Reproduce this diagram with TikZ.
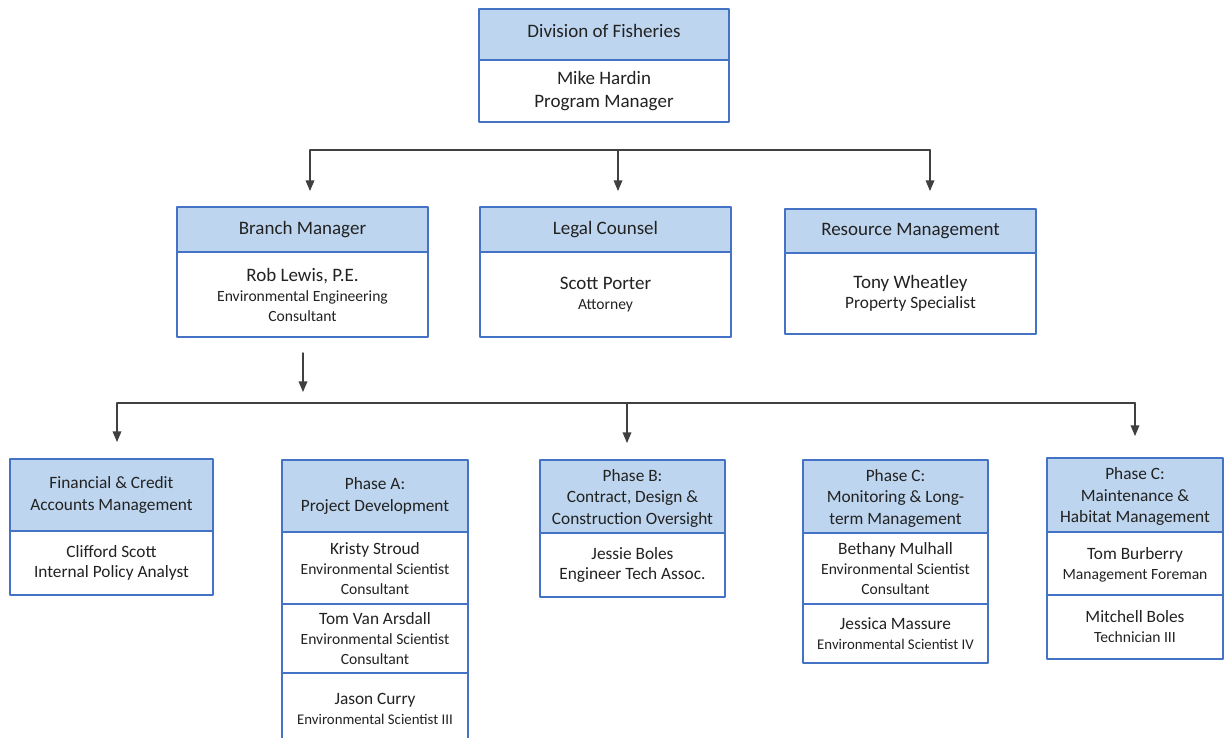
\documentclass[tikz,border=0pt]{standalone}
\usepackage{fontspec}
\setmainfont{Carlito}
\usetikzlibrary{arrows}
\definecolor{boxblue}{RGB}{68,114,196}
\definecolor{headblue}{RGB}{189,213,238}
\definecolor{inkgray}{RGB}{34,34,34}
\newcommand{\nameA}{\fontsize{19}{23}\selectfont}
\newcommand{\nameB}{\fontsize{17.3}{21}\selectfont}
\newcommand{\roleM}{\fontsize{17.3}{21}\selectfont}
\newcommand{\roleA}{\fontsize{15.6}{20}\selectfont}
\newcommand{\roleS}{\fontsize{14.8}{20}\selectfont}
\tikzset{
  cell/.style={draw=boxblue, line width=2pt, fill=white, inner sep=0pt, outer sep=0pt,
    anchor=north west, align=center, text=inkgray, font=\roleA},
  headA/.style={cell, fill=headblue, font=\fontsize{19}{22}\selectfont},
  headB/.style={cell, fill=headblue, font=\fontsize{17.3}{21.5}\selectfont},
  lowtext/.style={text depth=#1},
  wire/.style={line width=1.5pt, color=black!75}
}

\begin{document}
\begin{tikzpicture}[line cap=round,line join=round,>=triangle 45,x=1pt,y=-1pt]
\useasboundingbox (0,0) rectangle (1224,737);
\clip (0,0) rectangle (1224,737);
% top
\node[headA, minimum width=250, minimum height=51, lowtext=8pt] (divH) at (479,9) {Division of Fisheries};
\node[cell, minimum width=250, minimum height=62, font=\nameA] (divB) at (divH.south west) {Mike Hardin\\Program Manager};
% second row
\node[headA, minimum width=251, minimum height=45] (brH) at (177,207) {Branch Manager};
\node[cell, minimum width=251, minimum height=85] (brB) at (brH.south west) {\nameA Rob Lewis, P.E.\\ \roleA Environmental Engineering\\ \roleA Consultant};
\node[headA, minimum width=251, minimum height=45] (lgH) at (480,207) {Legal Counsel};
\node[cell, minimum width=251, minimum height=85] (lgB) at (lgH.south west) {\nameA Scott Porter\\ \roleA Attorney};
\node[headA, minimum width=251, minimum height=44] (rsH) at (785,209) {Resource Management};
\node[cell, minimum width=251, minimum height=81] (rsB) at (rsH.south west) {\nameA Tony Wheatley\\ \roleM Property Specialist};
% third row
\node[headB, minimum width=203, minimum height=72] (finH) at (10,459) {Financial \& Credit\\Accounts Management};
\node[cell, minimum width=203, minimum height=64] (finB) at (finH.south west) {\nameB Clifford Scott\\ \roleM Internal Policy Analyst};
\node[headB, minimum width=186, minimum height=72] (paH) at (282,460) {Phase A:\\Project Development};
\node[cell, minimum width=186, minimum height=72, lowtext=-2pt] (paA) at (paH.south west) {\nameB Kristy Stroud\\ \roleA Environmental Scientist\\ \roleA Consultant};
\node[cell, minimum width=186, minimum height=69, lowtext=-6pt] (paB) at (paA.south west) {\nameB Tom Van Arsdall\\ \roleA Environmental Scientist\\ \roleA Consultant};
\node[cell, minimum width=186, minimum height=72] (paC) at (paB.south west) {\nameB Jason Curry\\ \roleS Environmental Scientist III};
\node[headB, minimum width=185, minimum height=73, lowtext=-8pt] (pbH) at (540,460) {Phase B:\\Contract, Design \&\\Construction Oversight};
\node[cell, minimum width=185, minimum height=64] (pbB) at (pbH.south west) {\nameB Jessie Boles\\ \roleM Engineer Tech Assoc.};
\node[headB, minimum width=185, minimum height=73, lowtext=-8pt] (pcH) at (803,460) {Phase C:\\Monitoring \& Long-\\term Management};
\node[cell, minimum width=185, minimum height=71] (pcA) at (pcH.south west) {\nameB Bethany Mulhall\\ \roleA Environmental Scientist\\ \roleA Consultant};
\node[cell, minimum width=185, minimum height=59] (pcB) at (pcA.south west) {\nameB Jessica Massure\\ \roleS Environmental Scientist IV};
\node[headB, minimum width=176, minimum height=74, lowtext=-8pt] (phH) at (1047,458) {Phase C:\\Maintenance \&\\Habitat Management};
\node[cell, minimum width=176, minimum height=63, lowtext=-4pt] (phA) at (phH.south west) {\nameB Tom Burberry\\ \roleA Management Foreman};
\node[cell, minimum width=176, minimum height=64] (phB) at (phA.south west) {\nameB Mitchell Boles\\ \roleA Technician III};
% upper bus
\coordinate (busL) at (310,150);
\coordinate (busM) at (618,150);
\coordinate (busR) at (930,150);
\coordinate (tipL) at (310,191);
\coordinate (tipM) at (618,191);
\coordinate (tipR) at (930,191);
\draw[wire] (busL) -- (busR);
\draw[wire,->] (busL) -- (tipL);
\draw[wire,->] (busM) -- (tipM);
\draw[wire,->] (busR) -- (tipR);
% branch down
\coordinate (brOut) at (303,353);
\coordinate (brTip) at (303,392);
\draw[wire,->] (brOut) -- (brTip);
% lower bus
\coordinate (lbusL) at (117,403);
\coordinate (lbusM) at (627,403);
\coordinate (lbusR) at (1135,403);
\coordinate (ltipL) at (117,442);
\coordinate (ltipM) at (627,443);
\coordinate (ltipR) at (1135,436);
\draw[wire] (lbusL) -- (lbusR);
\draw[wire,->] (lbusL) -- (ltipL);
\draw[wire,->] (lbusM) -- (ltipM);
\draw[wire,->] (lbusR) -- (ltipR);
\end{tikzpicture}
\end{document}
